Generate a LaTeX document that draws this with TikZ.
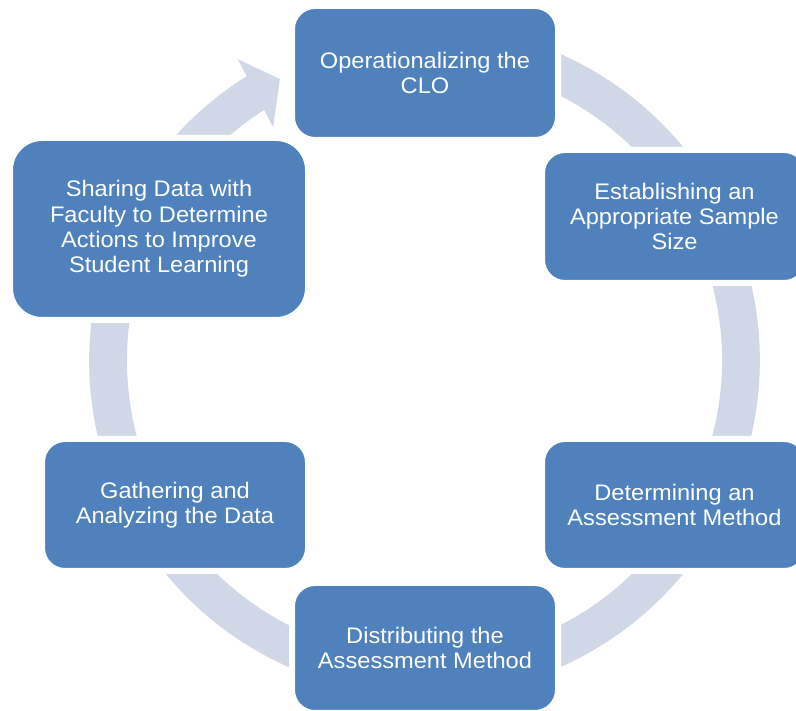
\documentclass[tikz,border=0pt]{standalone}
\usepackage{fontspec}
\setmainfont{Liberation Sans}[FakeStretch=1.05]
\usetikzlibrary{calc}
\definecolor{boxblue}{HTML}{4F81BD}
\definecolor{ringgray}{HTML}{D0D8E8}
\begin{document}
\begin{tikzpicture}[x=1pt,y=1pt,
  stagebox/.style={fill=boxblue, draw=white, line width=6pt, rounded corners=23pt,
    text=white, align=center, font=\fontsize{22.5}{25.3}\selectfont, inner sep=0pt},
  ringfill/.style={fill=ringgray}]
\clip (0,0) rectangle (796,711);
\coordinate (C) at (424.5,350.5);
% cycle ring with arrowhead
\fill[ringfill] ($(C)+(122.6:297.5)$) -- ($(C)+(123:278)$) -- ($(C)+(117.2:316.4)$)
  -- ($(C)+(121.8:354.5)$) -- ($(C)+(122:335.3)$)
  arc[start angle=122, end angle=472, radius=335.3]
  -- ($(C)+(472:297.5)$)
  arc[start angle=472, end angle=122.6, radius=297.5] -- cycle;
% stages
\node[stagebox, minimum width=266pt, minimum height=134pt] (top) at (425,638)
  {Operationalizing the\\CLO};
\node[stagebox, minimum width=265pt, minimum height=133pt] (ru) at (674.5,494.5)
  {Establishing an\\Appropriate Sample\\Size};
\node[stagebox, minimum width=265pt, minimum height=132pt] (rl) at (674.5,206)
  {Determining an\\Assessment Method};
\node[stagebox, minimum width=266pt, minimum height=130pt] (bot) at (425,63)
  {Distributing the\\Assessment Method};
\node[stagebox, minimum width=266pt, minimum height=132pt] (ll) at (175,206)
  {Gathering and\\Analyzing the Data};
\node[stagebox, rounded corners=32pt, minimum width=298pt, minimum height=182pt] (lu) at (159,482)
  {Sharing Data with\\Faculty to Determine\\Actions to Improve\\Student Learning};
\end{tikzpicture}
\end{document}
